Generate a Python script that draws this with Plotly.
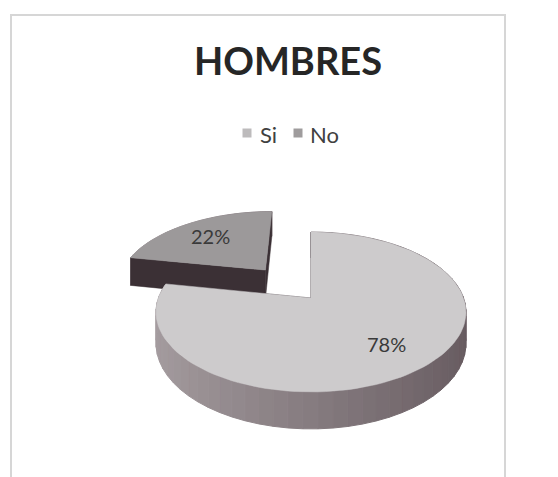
import numpy as np
import plotly.graph_objects as go

# ---- data ----
categories = ["Si", "No"]
values = [78, 22]
explode = [0.0, 0.5]

# ---- styles ----
top_colors = ["#cdcbcc", "#9c999a"]
legend_colors = ["#bdbbbc", "#9f9c9d"]
cut_color = "#3b3035"
wall_light = np.array([0xa5, 0x9d, 0xa0])
wall_dark = np.array([0x66, 0x5a, 0x5f])

W, Hh = 558, 477
CX, CY = 311.0, 298.0      # pie centre (pixels)
A, B, K = 152.6, 77.5, 0.175  # horizontal / vertical radius, perspective
DEPTH = 30.5


def proj(u, v, z=0.0):
    w = 1.0 + K * np.asarray(v)
    return CX + A * np.asarray(u) / w, CY + (z - B * np.asarray(v)) / w


def rgb(c):
    return "rgb(%d,%d,%d)" % tuple(int(round(x)) for x in c)


total = float(sum(values))
angles = np.cumsum([0] + [v / total * 360.0 for v in values])

fig = go.Figure()

slices = []
for i, cat in enumerate(categories):
    a0, a1 = angles[i], angles[i + 1]
    mid = np.radians((a0 + a1) / 2)
    ou, ov = explode[i] * np.sin(mid), explode[i] * np.cos(mid)
    slices.append((a0, a1, mid, ou, ov))

# draw the back (exploded) slice first, then the big front slice
order = [1, 0]
for i in order:
    a0, a1, mid, ou, ov = slices[i]
    t = np.radians(np.linspace(a0, a1, 121))
    u = ou + np.sin(t)
    v = ov + np.cos(t)
    # outer wall, shaded segment by segment
    nseg = 60
    idx = np.linspace(0, len(t) - 1, nseg + 1).astype(int)
    for s in range(nseg):
        j0, j1 = idx[s], idx[s + 1]
        uu, vv = u[j0:j1 + 1], v[j0:j1 + 1]
        xt, yt = proj(uu, vv)
        xb, yb = proj(uu, vv, DEPTH)
        um = np.sin((t[j0] + t[j1]) / 2)
        col = rgb(wall_light + (wall_dark - wall_light) * (um + 1) / 2)
        fig.add_trace(go.Scatter(
            x=np.concatenate([xt, xb[::-1], xt[:1]]),
            y=np.concatenate([yt, yb[::-1], yt[:1]]),
            mode="lines", fill="toself", fillcolor=col,
            line=dict(color=col, width=1), hoverinfo="skip", showlegend=False))
    # radial cut faces
    for ang in (a0, a1):
        ea = np.radians(ang)
        eu, ev = ou + np.sin(ea), ov + np.cos(ea)
        px = [proj(ou, ov)[0], proj(eu, ev)[0], proj(eu, ev, DEPTH)[0], proj(ou, ov, DEPTH)[0]]
        py = [proj(ou, ov)[1], proj(eu, ev)[1], proj(eu, ev, DEPTH)[1], proj(ou, ov, DEPTH)[1]]
        fig.add_trace(go.Scatter(
            x=px + px[:1], y=py + py[:1], mode="lines", fill="toself",
            fillcolor=cut_color, line=dict(color=cut_color, width=0.5),
            hoverinfo="skip", showlegend=False))
    # top face
    xt, yt = proj(u, v)
    xc, yc = proj(ou, ov)
    fig.add_trace(go.Scatter(
        x=np.concatenate([[xc], xt, [xc]]), y=np.concatenate([[yc], yt, [yc]]),
        mode="lines", fill="toself", fillcolor=top_colors[i],
        line=dict(color=top_colors[i], width=0.5), hoverinfo="skip",
        showlegend=False))

# percentage labels
for i, cat in enumerate(categories):
    a0, a1, mid, ou, ov = slices[i]
    lx, ly = proj(ou + 0.7 * np.sin(mid), ov + 0.7 * np.cos(mid))
    fig.add_annotation(x=float(lx), y=float(ly), text="%d%%" % round(values[i] / total * 100),
                       showarrow=False, font=dict(family="Lato", size=20, color="#3a3a3a"))

# legend (compact, as in the original)
leg_marker_x = [247, 298]
leg_text_x = [258, 308]
leg_y = 133
fig.add_trace(go.Scatter(x=leg_marker_x, y=[leg_y] * 2, mode="markers",
                         marker=dict(symbol="square", size=9, color=legend_colors),
                         hoverinfo="skip", showlegend=False))
for i, cat in enumerate(categories):
    fig.add_annotation(x=leg_text_x[i], y=leg_y + 1, text=cat, showarrow=False,
                       xanchor="left", yanchor="middle",
                       font=dict(family="Lato", size=22, color="#404040"))

# frame
fig.add_shape(type="rect", x0=11, y0=15, x1=505, y1=490, xref="x", yref="y",
              line=dict(color="#d6d6d6", width=2), fillcolor="rgba(0,0,0,0)", layer="below")

fig.update_layout(
    width=W, height=Hh,
    margin=dict(l=0, r=0, t=0, b=0),
    paper_bgcolor="white", plot_bgcolor="white",
    title=dict(text="<b>HOMBRES</b>", x=288 / W, xanchor="center",
               y=1 - 62 / Hh, yanchor="middle",
               font=dict(family="Lato", size=38, color="#262626")),
    xaxis=dict(range=[0, W], visible=False, fixedrange=True),
    yaxis=dict(range=[Hh, 0], visible=False, fixedrange=True),
    showlegend=False,
)

fig.write_html("out.html")
